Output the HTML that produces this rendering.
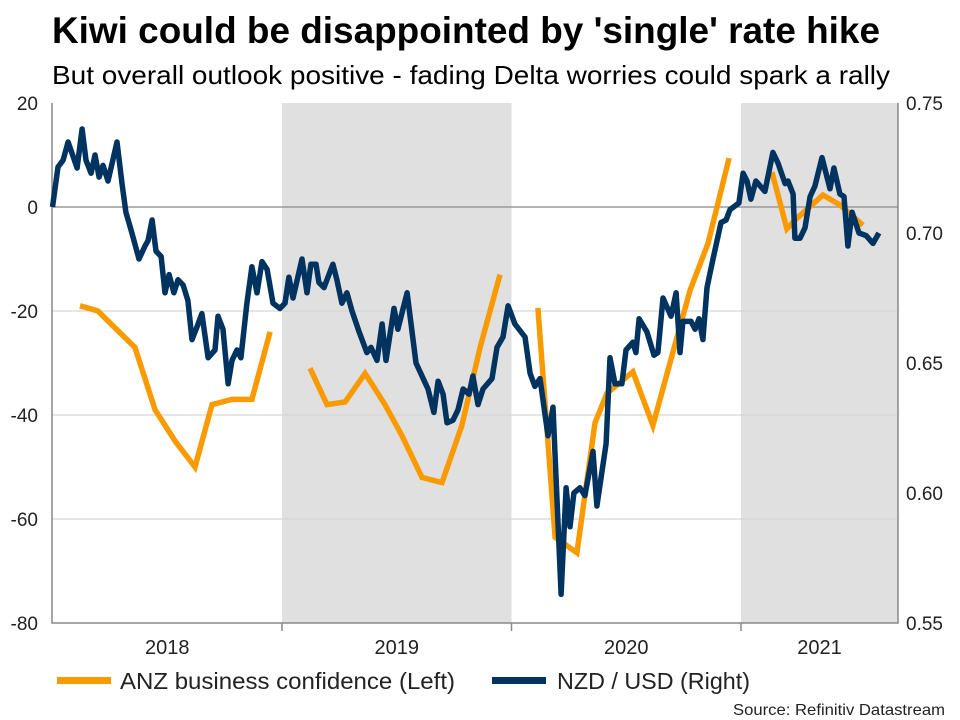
<!DOCTYPE html>
<html><head><meta charset="utf-8"><style>
body{margin:0;background:#fff;}
svg{display:block;font-family:"Liberation Sans",sans-serif;}
</style></head><body>
<svg id="chart" width="960" height="720" viewBox="0 0 960 720">
<text x="52" y="43" font-size="37" font-weight="bold" fill="#000" textLength="828" lengthAdjust="spacingAndGlyphs">Kiwi could be disappointed by 'single' rate hike</text>
<text x="52" y="84" font-size="26" fill="#000" textLength="838" lengthAdjust="spacingAndGlyphs">But overall outlook positive - fading Delta worries could spark a rally</text>
<g id="plot"></g>
<g>
<rect x="57" y="677" width="54" height="7" fill="#f99b00"/>
<text x="120" y="689" font-size="23" fill="#222" textLength="335" lengthAdjust="spacingAndGlyphs">ANZ business confidence (Left)</text>
<rect x="492" y="677" width="54" height="7" fill="#00335f"/>
<text x="557" y="689" font-size="23" fill="#222" textLength="193" lengthAdjust="spacingAndGlyphs">NZD / USD (Right)</text>
</g>
<text x="945" y="715" text-anchor="end" font-size="16" fill="#222" textLength="212" lengthAdjust="spacingAndGlyphs">Source: Refinitiv Datastream</text>
</svg>
<script>
const leftTicks=[20,0,-20,-40,-60,-80];
const rightTicks=[0.75,0.70,0.65,0.60,0.55];
const years=["2018","2019","2020","2021"];
const shadedYears=[2019,2021];
const anzDates=[2018.120,2018.198,2018.359,2018.447,2018.534,2018.621,2018.695,2018.782,2018.869,2018.948,null,2019.122,2019.196,2019.275,2019.362,2019.449,2019.523,2019.610,2019.697,2019.784,2019.863,2019.950,null,2020.115,2020.190,2020.285,2020.364,2020.416,2020.529,2020.616,2020.703,2020.778,2020.856,2020.948,null,2021.135,2021.200,2021.248,2021.357,2021.431,2021.531];
const anzValues=[-19,-20,-27,-39,-45,-50,-38,-37,-37,-24,null,-31,-38,-37.5,-32,-38,-44,-52,-53,-42,-27,-13,null,-19.4,-63.5,-66.5,-41.5,-35.8,-31.7,-42,-28,-16,-7,9.4,null,6.7,-4.2,-2,2.3,0.4,-3.5];
const nzdDates=[2018.000,2018.024,2018.046,2018.068,2018.107,2018.129,2018.146,2018.168,2018.185,2018.203,2018.220,2018.242,2018.281,2018.303,2018.320,2018.346,2018.377,2018.403,2018.416,2018.434,2018.451,2018.473,2018.490,2018.508,2018.529,2018.547,2018.569,2018.590,2018.608,2018.630,2018.651,2018.678,2018.708,2018.721,2018.743,2018.765,2018.782,2018.804,2018.821,2018.847,2018.869,2018.891,2018.913,2018.935,2018.961,2018.991,2019.013,2019.030,2019.048,2019.087,2019.109,2019.126,2019.148,2019.161,2019.183,2019.222,2019.239,2019.261,2019.283,2019.305,2019.336,2019.370,2019.388,2019.414,2019.436,2019.453,2019.488,2019.505,2019.545,2019.584,2019.636,2019.662,2019.680,2019.702,2019.719,2019.745,2019.767,2019.789,2019.815,2019.832,2019.854,2019.876,2019.915,2019.937,2019.963,2019.985,2020.015,2020.059,2020.081,2020.102,2020.124,2020.159,2020.181,2020.216,2020.238,2020.255,2020.272,2020.298,2020.320,2020.355,2020.372,2020.412,2020.429,2020.451,2020.481,2020.499,2020.529,2020.542,2020.556,2020.590,2020.621,2020.638,2020.660,2020.695,2020.717,2020.734,2020.747,2020.782,2020.800,2020.817,2020.834,2020.852,2020.878,2020.913,2020.935,2020.952,2020.983,2020.991,2021.009,2021.026,2021.043,2021.065,2021.104,2021.139,2021.161,2021.192,2021.205,2021.227,2021.235,2021.257,2021.279,2021.301,2021.322,2021.353,2021.388,2021.405,2021.431,2021.449,2021.466,2021.484,2021.514,2021.545,2021.575,2021.601];
const nzdValues=[0.710,0.7254,0.728,0.735,0.725,0.740,0.728,0.723,0.730,0.7215,0.726,0.720,0.735,0.719,0.708,0.700,0.690,0.695,0.697,0.705,0.693,0.691,0.677,0.684,0.677,0.682,0.680,0.674,0.659,0.664,0.669,0.652,0.655,0.668,0.663,0.642,0.651,0.655,0.652,0.673,0.687,0.677,0.689,0.686,0.673,0.671,0.673,0.683,0.675,0.690,0.677,0.688,0.688,0.681,0.679,0.688,0.682,0.673,0.677,0.670,0.662,0.654,0.656,0.651,0.665,0.651,0.671,0.663,0.677,0.650,0.640,0.631,0.643,0.638,0.627,0.628,0.632,0.640,0.638,0.645,0.634,0.640,0.644,0.656,0.660,0.672,0.665,0.660,0.646,0.641,0.644,0.622,0.633,0.561,0.602,0.587,0.600,0.602,0.599,0.616,0.595,0.619,0.652,0.642,0.642,0.655,0.658,0.654,0.667,0.662,0.653,0.654,0.675,0.668,0.677,0.654,0.666,0.666,0.663,0.667,0.659,0.679,0.690,0.704,0.705,0.709,0.711,0.7115,0.723,0.720,0.713,0.720,0.716,0.731,0.727,0.719,0.720,0.715,0.698,0.698,0.702,0.714,0.718,0.729,0.717,0.725,0.715,0.714,0.695,0.708,0.700,0.699,0.696,0.700];

const NS='http://www.w3.org/2000/svg';
const L=52,R=898,T=103,B=623;
const xScale=t=>52.5+(t-2018)*229.5;
const yLeft=v=>T+(20-v)/100*(B-T);
const yRight=v=>T+(0.75-v)/0.20*(B-T);
const plot=document.getElementById('plot');
function mk(tag,attrs){const e=document.createElementNS(NS,tag);for(const k in attrs)e.setAttribute(k,attrs[k]);plot.appendChild(e);return e;}

shadedYears.forEach(y=>{
  const x0=xScale(y),x1=Math.min(xScale(y+1),R);
  const r=mk('rect',{x:x0,y:T,width:x1-x0,height:B-T,fill:'#e0e0e0'});
  
  
});
leftTicks.forEach(v=>{
  const y=yLeft(v);
  if(v!==20&&v!==-80){
    const g=mk('line',{x1:L,x2:R,y1:y,y2:y,stroke:v===0?'#999':'#d6d6d6','stroke-width':v===0?1.5:1.2});
    
    
  }
  const t=mk('text',{x:38,y:y+7,'text-anchor':'end','font-size':19,fill:'#222'});
  t.textContent=v;
  
  
});
rightTicks.forEach(v=>{
  const t=mk('text',{x:906,y:yRight(v)+7,'font-size':19,fill:'#222'});
  t.textContent=v.toFixed(2);
  
  
});
const ax=mk('path',{d:`M${L},${T} V${B} H${R} V${T}`,fill:'none',stroke:'#888','stroke-width':1.5});


years.forEach((y,i)=>{
  const x0=xScale(2018+i);
  if(i>0){const tk=mk('line',{x1:x0,x2:x0,y1:B,y2:B+8,stroke:'#888','stroke-width':1.5});
  
  }
  const cx=(x0+Math.min(xScale(2019+i),R))/2;
  const t=mk('text',{x:cx,y:654,'text-anchor':'middle','font-size':20,fill:'#222'});
  t.textContent=y;
  
  
});
function linePath(ds,vs,ys){let d='',pen=false;ds.forEach((t,i)=>{if(t===null||vs[i]===null){pen=false;return;}d+=(pen?'L':'M')+xScale(t).toFixed(1)+','+ys(vs[i]).toFixed(1);pen=true;});return d;}
const anz=mk('path',{d:linePath(anzDates,anzValues,yLeft),fill:'none',stroke:'#f99b00','stroke-width':5.5,'stroke-linejoin':'miter'});


const nzd=mk('path',{d:linePath(nzdDates,nzdValues,yRight),fill:'none',stroke:'#00335f','stroke-width':5.5,'stroke-linejoin':'round'});


</script>
</body></html>
